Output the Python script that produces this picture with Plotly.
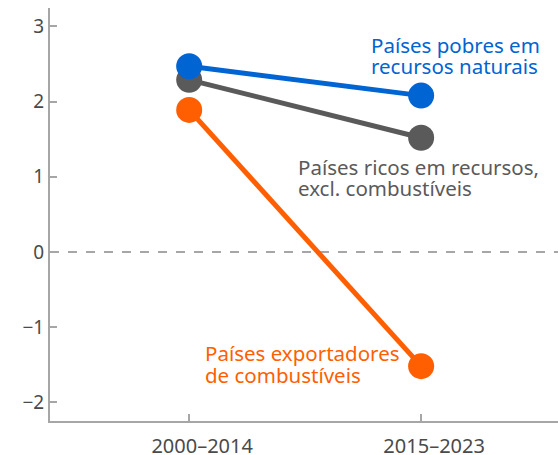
import plotly.graph_objects as go

periods = ["2000–2014", "2015–2023"]
pobres = [2.47, 2.08]
ricos = [2.29, 1.52]
exportadores = [1.89, -1.52]
y_ticks = [-2, -1, 0, 1, 2, 3]
y_tick_labels = ["−2", "−1", "0", "1", "2", "3"]

blue = "#0064d2"
gray = "#5a5a5a"
orange = "#ff5f00"
axis_col = "#a6a6a6"
font = "'Noto Sans', sans-serif"

fig = go.Figure()
for vals, col in [(ricos, gray), (exportadores, orange), (pobres, blue)]:
    fig.add_trace(go.Scatter(
        x=periods, y=vals, mode="lines+markers",
        line=dict(color=col, width=5),
        marker=dict(color=col, size=26),
        showlegend=False, cliponaxis=False, hoverinfo="skip",
    ))

fig.add_hline(y=0, line=dict(color=axis_col, width=2, dash="dash"), layer="below")

# labels: one annotation per line for tighter line spacing
labels = [
    (1, 2.76, -52, "Países pobres em", blue),
    (1, 2.48, -52, "recursos naturais", blue),
    (1, 1.13, -125, "Países ricos em recursos,", gray),
    (1, 0.85, -125, "excl. combustíveis", gray),
    (0, -1.35, 14, "Países exportadores", orange),
    (0, -1.64, 14, "de combustíveis", orange),
]
for xi, yv, dx, txt, col in labels:
    fig.add_annotation(x=xi, y=yv, xref="x", yref="y", text=txt,
                       xanchor="left", yanchor="middle", xshift=dx, showarrow=False,
                       font=dict(color=col, size=20.5, family=font))

fig.update_xaxes(
    type="category", range=[-0.6, 1.59], automargin=False,
    showline=True, linecolor=axis_col, linewidth=2,
    ticks="inside", ticklen=7, tickcolor=axis_col, tickwidth=2,
    showgrid=False, zeroline=False, ticklabelstandoff=6, ticklabelshift=13,
    tickfont=dict(size=20, color="#4a4a4a", family=font),
)
fig.update_yaxes(
    range=[-2.25, 3.246], tickvals=y_ticks, ticktext=y_tick_labels, automargin=False,
    showline=True, linecolor=axis_col, linewidth=2,
    ticks="inside", ticklen=7, tickcolor=axis_col, tickwidth=2,
    showgrid=False, zeroline=False,
    tickfont=dict(size=19, color="#4a4a4a", family=font),
)
fig.update_layout(
    width=558, height=455,
    margin=dict(l=50, r=0, t=8, b=34),
    paper_bgcolor="white", plot_bgcolor="white",
)
# drop the default body margin so the figure fills the window
fig.write_html("out.html", config={"displayModeBar": False},
               post_script="document.body.style.margin='0';")
